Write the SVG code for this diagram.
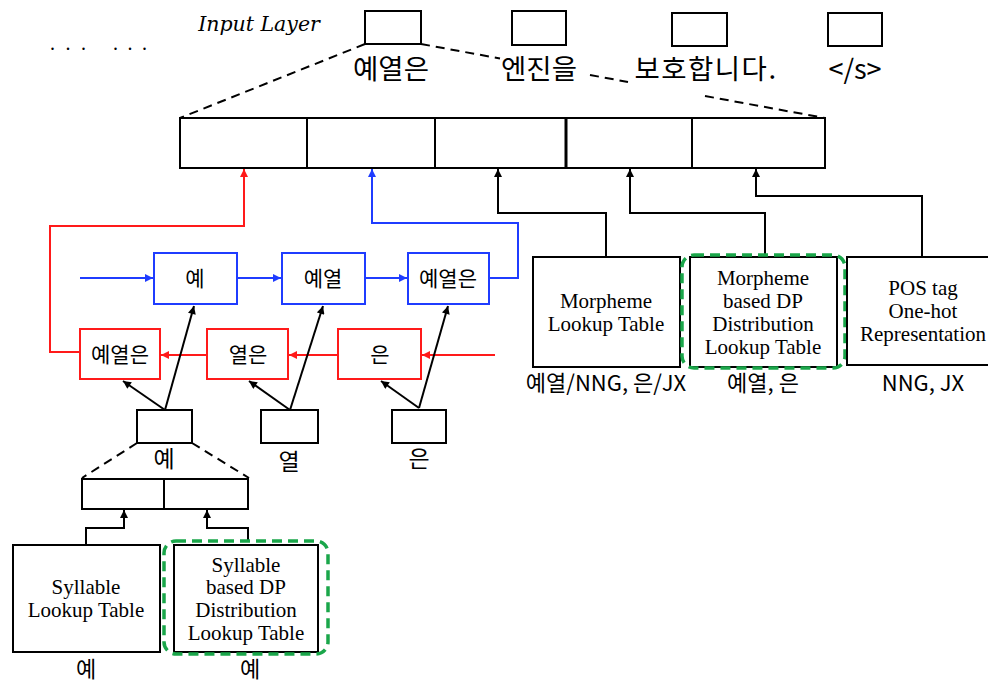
<svg xmlns="http://www.w3.org/2000/svg" width="988" height="682" viewBox="0 0 988 682">
<style>
.box{fill:#fff;stroke:#000;stroke-width:2}
.bbox{fill:#fff;stroke:#1f3cff;stroke-width:2}
.rbox{fill:#fff;stroke:#ff1a1a;stroke-width:2}
.green{fill:none;stroke:#1aa64a;stroke-width:3.5;stroke-dasharray:10 6}
.k{font-family:"Noto Sans CJK KR","Noto Sans",sans-serif;fill:#000;text-anchor:middle}
.s{font-family:"Liberation Serif","Times New Roman",serif;font-size:21px;fill:#000;text-anchor:middle}
.ln{fill:none;stroke:#000;stroke-width:2}
.lb{fill:none;stroke:#1f3cff;stroke-width:2}
.lr{fill:none;stroke:#ff1a1a;stroke-width:2}
.dash{fill:none;stroke:#000;stroke-width:2;stroke-dasharray:9 6}
</style>
<defs>
<marker id="ak" viewBox="0 0 10 10" refX="10" refY="5" markerWidth="9" markerHeight="8" markerUnits="userSpaceOnUse" orient="auto"><path d="M0,0 L10,5 L0,10 z" fill="#000"/></marker>
<marker id="ab" viewBox="0 0 10 10" refX="10" refY="5" markerWidth="9" markerHeight="8" markerUnits="userSpaceOnUse" orient="auto"><path d="M0,0 L10,5 L0,10 z" fill="#1f3cff"/></marker>
<marker id="ar" viewBox="0 0 10 10" refX="10" refY="5" markerWidth="9" markerHeight="8" markerUnits="userSpaceOnUse" orient="auto"><path d="M0,0 L10,5 L0,10 z" fill="#ff1a1a"/></marker>
</defs>

<g id="header">
<text x="259" y="31" font-family="DejaVu Serif,serif" font-style="italic" font-size="20.5" text-anchor="middle">Input Layer</text>
<text x="50" y="50" font-family="Liberation Serif,serif" font-size="20" textLength="36" lengthAdjust="spacing">. . .</text>
<text x="113" y="50" font-family="Liberation Serif,serif" font-size="20" textLength="34" lengthAdjust="spacing">. . .</text>
</g>

<g id="connectors">
<path class="dash" d="M365,44 L180,118"/>
<path class="dash" d="M421,44 L500,58.5 M590,75 L628,82 M705,96 L825,118"/>
<path class="dash" d="M137,443 L82,478 M192,443 L249,478"/>
<path class="lr" d="M80,352 L50,352 L50,226 L244,226 L244,169" marker-end="url(#ar)"/>
<path class="lb" d="M489,278 L518,278 L518,223 L372,223 L372,169" marker-end="url(#ab)"/>
<path class="ln" d="M606,257 L606,213 L498,213 L498,169" marker-end="url(#ak)"/>
<path class="ln" d="M765,255 L765,213 L630,213 L630,169" marker-end="url(#ak)"/>
<path class="ln" d="M922,257 L922,196 L756,196 L756,169" marker-end="url(#ak)"/>
<path class="lb" d="M80,278 L153,278" marker-end="url(#ab)"/>
<path class="lb" d="M237,278 L281,278" marker-end="url(#ab)"/>
<path class="lb" d="M365,278 L407,278" marker-end="url(#ab)"/>
<path class="lr" d="M495,355 L422,355" marker-end="url(#ar)"/>
<path class="lr" d="M338,355 L289,355" marker-end="url(#ar)"/>
<path class="lr" d="M207,355 L161,355" marker-end="url(#ar)"/>
<path class="ln" d="M165,410 L194,306" marker-end="url(#ak)"/>
<path class="ln" d="M165,410 L123,381" marker-end="url(#ak)"/>
<path class="ln" d="M290,410 L323,306" marker-end="url(#ak)"/>
<path class="ln" d="M290,410 L249,381" marker-end="url(#ak)"/>
<path class="ln" d="M419,408 L448,306" marker-end="url(#ak)"/>
<path class="ln" d="M419,408 L381,381" marker-end="url(#ak)"/>
<path class="ln" d="M86,545 L86,528 L124,528 L124,510" marker-end="url(#ak)"/>
<path class="ln" d="M248,541 L248,528 L207,528 L207,510" marker-end="url(#ak)"/>
</g>

<g id="input1"><rect class="box" x="365" y="11" width="56" height="33"/><text class="k" x="391" y="79" font-size="27.5">예열은</text></g>
<g id="input2"><rect class="box" x="512" y="11" width="54" height="34"/><text class="k" x="539" y="79" font-size="27.5">엔진을</text></g>
<g id="input3"><rect class="box" x="672" y="13" width="55" height="33"/><text class="k" x="706" y="79" font-size="27.5" letter-spacing="1.5">보호합니다.</text></g>
<g id="input4"><rect class="box" x="828" y="13" width="54" height="33"/><text class="k" x="855" y="79" font-size="27" font-family="Liberation Serif,serif">&lt;/s&gt;</text></g>

<g id="embed-bar">
<rect class="box" x="180" y="118" width="645" height="50"/>
<path class="ln" d="M307,118 V168 M435,118 V168 M692,118 V168"/>
<path d="M566,118 V168" stroke="#000" stroke-width="3"/>
</g>

<g id="fw1"><rect class="bbox" x="154" y="253" width="83" height="51"/><text class="k" x="195" y="286" font-size="21">예</text></g>
<g id="fw2"><rect class="bbox" x="282" y="253" width="83" height="51"/><text class="k" x="323" y="286" font-size="21">예열</text></g>
<g id="fw3"><rect class="bbox" x="408" y="253" width="81" height="51"/><text class="k" x="448" y="286" font-size="21">예열은</text></g>

<g id="bw1"><rect class="rbox" x="80" y="329" width="80" height="50"/><text class="k" x="120" y="362" font-size="21">예열은</text></g>
<g id="bw2"><rect class="rbox" x="207" y="329" width="81" height="50"/><text class="k" x="248" y="362" font-size="21">열은</text></g>
<g id="bw3"><rect class="rbox" x="338" y="329" width="83" height="50"/><text class="k" x="380" y="362" font-size="21">은</text></g>

<g id="syl1"><rect class="box" x="137" y="410" width="55" height="33"/><text class="k" x="164" y="467" font-size="23">예</text></g>
<g id="syl2"><rect class="box" x="261" y="410" width="57" height="33"/><text class="k" x="289" y="470" font-size="23">열</text></g>
<g id="syl3"><rect class="box" x="392" y="410" width="54" height="33"/><text class="k" x="419" y="467" font-size="23">은</text></g>

<g id="syl-bar"><rect class="box" x="82" y="479" width="166" height="30"/><path class="ln" d="M164,479 V509"/></g>

<g id="syl-lookup"><rect class="box" x="13" y="545" width="147" height="107"/>
<text class="s" x="86" y="594">Syllable</text><text class="s" x="86" y="617">Lookup Table</text>
<text class="k" x="86" y="677" font-size="22">예</text></g>

<g id="syl-dp"><rect class="box" x="174" y="545" width="144" height="107"/>
<rect class="green" x="164" y="541" width="164" height="113" rx="12"/>
<text class="s" x="246" y="572">Syllable</text><text class="s" x="246" y="594">based DP</text><text class="s" x="246" y="617">Distribution</text><text class="s" x="246" y="640">Lookup Table</text>
<text class="k" x="250" y="677" font-size="22">예</text></g>

<g id="morph-lookup"><rect class="box" x="533" y="257" width="147" height="110"/>
<text class="s" x="606" y="308">Morpheme</text><text class="s" x="606" y="331">Lookup Table</text>
<text class="k" x="606" y="391" font-size="22">예열/NNG, 은/JX</text></g>

<g id="morph-dp"><rect class="box" x="690" y="257" width="147" height="110"/>
<rect class="green" x="682" y="255" width="163" height="113" rx="12"/>
<text class="s" x="763" y="285">Morpheme</text><text class="s" x="763" y="308">based DP</text><text class="s" x="763" y="331">Distribution</text><text class="s" x="763" y="354">Lookup Table</text>
<text class="k" x="763" y="391" font-size="22">예열, 은</text></g>

<g id="pos"><rect class="box" x="847" y="257" width="150" height="108"/>
<text class="s" x="923" y="295">POS tag</text><text class="s" x="923" y="318">One-hot</text><text class="s" x="923" y="341">Representation</text>
<text class="k" x="923" y="391" font-size="22">NNG, JX</text></g>
</svg>
